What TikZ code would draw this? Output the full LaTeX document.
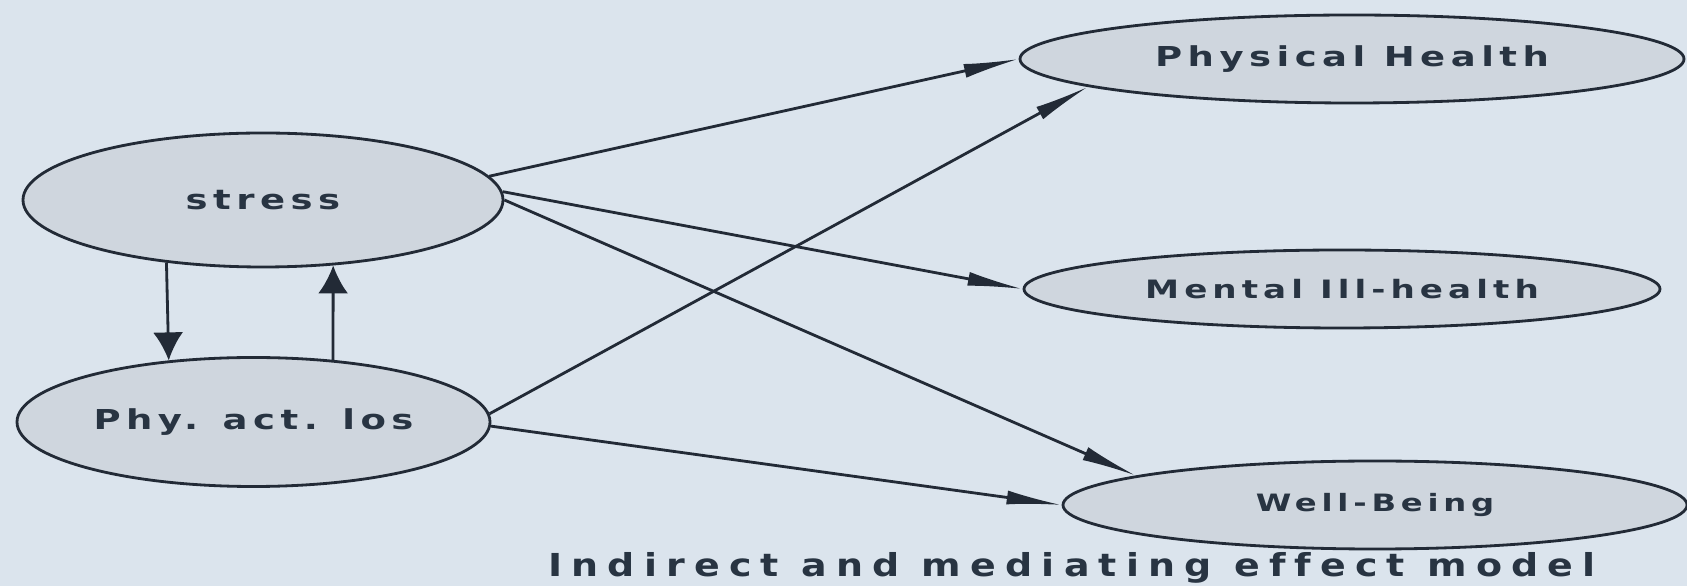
\documentclass[tikz,border=0pt]{standalone}
\usepackage{fontspec}
\usetikzlibrary{arrows.meta,shapes.geometric}
\newfontfamily\VarFont[FakeStretch=1.35,LetterSpace=20,Ligatures=NoCommon]{DejaVu Sans Bold}
\newfontfamily\CaptionFont[FakeStretch=1.2,LetterSpace=29,Ligatures=NoCommon]{DejaVu Sans Bold}
\newcommand{\VarNodeFont}{\VarFont\fontsize{15.6}{18}\selectfont}
\newcommand{\VarSmallFont}[1]{\VarFont\fontsize{#1}{18}\selectfont}
\newcommand{\CaptionNodeFont}{\CaptionFont\fontsize{18}{21}\selectfont}
\definecolor{PaperFill}{RGB}{219,228,237}
\definecolor{VarFill}{RGB}{207,214,222}
\definecolor{VarDraw}{RGB}{34,42,54}
\definecolor{VarText}{RGB}{40,52,66}
\tikzset{
  %% latent variable ellipses
  varBlk/.style={
    ellipse,
    draw=VarDraw,
    fill=VarFill,
    line width=1.6pt,
    inner sep=0pt,
    text=VarText,
    font=\VarNodeFont,
  },
  %% arrows
  parr/.style={
    -{Latex[length=1.1cm,width=0.28cm]},
    line width=1.6pt,
    VarDraw,
  },
  varr/.style={
    -{Latex[length=0.56cm,width=0.6cm]},
    line width=1.6pt,
    VarDraw,
  },
  capNode/.style={
    font=\CaptionNodeFont,
    text=VarText,
    inner sep=0pt,
    anchor=base,
  },
}

\begin{document}
\begin{tikzpicture}

%% ── Page background ────────────────────────────────────────────────────────
\fill[PaperFill] (0,0) rectangle (33.74,11.72);
\useasboundingbox (0,0) rectangle (33.74,11.72);

%% ── Predictors ─────────────────────────────────────────────────────────────
\node[varBlk, minimum width=9.6cm,  minimum height=2.68cm] (STRESS) at (5.26,7.72) {stress};
\node[varBlk, minimum width=9.46cm, minimum height=2.58cm] (PHY)    at (5.07,3.28) {Phy. act. los};

%% ── Outcomes ───────────────────────────────────────────────────────────────
\node[varBlk, minimum width=13.28cm, minimum height=1.76cm] (PHEALTH) at (27.04,10.54) {Physical Health};
\node[varBlk, minimum width=12.72cm, minimum height=1.56cm, font=\VarSmallFont{14.4}]
  (MHEALTH) at (26.84,5.94) {Mental Ill-health};
\node[varBlk, minimum width=12.48cm, minimum height=1.76cm, font=\VarSmallFont{13.6}]
  (WELL) at (27.50,1.62) {Well-Being};

%% ── Reciprocal arrows ──────────────────────────────────────────────────────
\draw[varr] (STRESS.213) -- (PHY.144);
\draw[varr] (PHY.38)     -- (STRESS.317);

%% ── Paths to outcomes ──────────────────────────────────────────────────────
\draw[parr] (STRESS.6) -- (PHEALTH.180);
\draw[parr] (STRESS.2) -- (MHEALTH.180);
\draw[parr] (STRESS.0) -- (WELL.173.5);
\draw[parr] (PHY.2)    -- (PHEALTH.186);
\draw[parr] (PHY.-1)   -- (WELL.180);

%% ── Caption ────────────────────────────────────────────────────────────────
\node[capNode] (CAP) at (21.44,0.18) {Indirect and mediating effect model};

\end{tikzpicture}
\end{document}
